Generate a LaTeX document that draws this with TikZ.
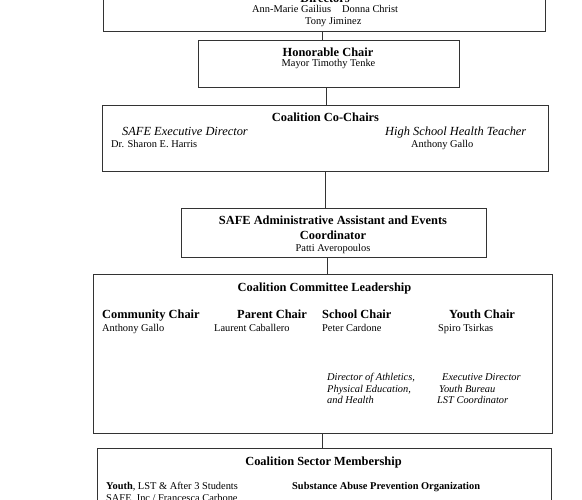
\documentclass[tikz,border=0pt]{standalone}
\usepackage{fontspec}
\setmainfont{Liberation Serif}
\begin{document}
\begin{tikzpicture}[x=1pt,y=-1pt,
  box/.style={draw=black!80,line width=0.9pt,inner sep=0,minimum width=#1},
  conn/.style={draw=black!80,line width=0.8pt},
  ttl/.style={font=\fontsize{12.4}{14}\selectfont\bfseries,inner sep=0,anchor=base},
  ttlw/.style={font=\fontsize{12.4}{14}\selectfont\bfseries,inner sep=0,anchor=base west},
  nm/.style={font=\fontsize{10.4}{12}\selectfont,inner sep=0,anchor=base west},
  nmc/.style={font=\fontsize{10.4}{12}\selectfont,inner sep=0,anchor=base},
  itl/.style={font=\fontsize{12.4}{14}\selectfont\itshape,inner sep=0,anchor=base west},
  its/.style={font=\fontsize{10.4}{12}\selectfont\itshape,inner sep=0,anchor=base west},
  bs/.style={font=\fontsize{10.4}{12}\selectfont\bfseries,inner sep=0,anchor=base west}]
\useasboundingbox (0,0) rectangle (582,500);
\clip (0,0) rectangle (582,500);
\fill[white] (0,0) rectangle (582,500);
% boxes
\node[box=442pt,minimum height=61pt] (top) at (324,0.5) {};
\node[box=261pt,minimum height=47pt] (hon) at (328.5,63.5) {};
\node[box=446pt,minimum height=66pt] (cochairs) at (325,138) {};
\node[box=305pt,minimum height=49pt] (admin) at (333.5,232.5) {};
\node[box=459pt,minimum height=159pt] (committee) at (322.5,353.5) {};
\node[box=454pt,minimum height=112pt] (sector) at (324,504) {};
% connector x positions
\coordinate (x1) at (322,0);
\coordinate (x2) at (326,0);
\coordinate (x3) at (325,0);
\coordinate (x4) at (327,0);
\coordinate (x5) at (322,0);
\draw[conn] (top.south -| x1) -- (hon.north -| x1);
\draw[conn] (hon.south -| x2) -- (cochairs.north -| x2);
\draw[conn] (cochairs.south -| x3) -- (admin.north -| x3);
\draw[conn] (admin.south -| x4) -- (committee.north -| x4);
\draw[conn] (committee.south -| x5) -- (sector.north -| x5);
% top box texts
\node[ttl] (dirs) at (325,2.5) {Directors};
\node[nm] (amg) at (252,13) {Ann-Marie Gailius};
\node[nm] (dc) at (342,13) {Donna Christ};
\node[nm] (tj) at (305,25) {Tony Jiminez};
% honorable chair
\node[ttl] (hont) at (328,57) {Honorable Chair};
\node[nmc] (mtt) at (328.5,67) {Mayor Timothy Tenke};
% co-chairs
\node[ttl] (cct) at (325.5,122) {Coalition Co-Chairs};
\node[itl] (sed) at (122,135.5) {SAFE Executive Director};
\node[nm] (seh) at (111,148) {Dr. Sharon E. Harris};
\node[itl] (hsh) at (385,135.5) {High School Health Teacher};
\node[nm] (ag1) at (411,148) {Anthony Gallo};
% admin
\node[ttl] (adt1) at (333,225) {SAFE Administrative Assistant and Events};
\node[ttl] (adt2) at (333,240) {Coordinator};
\node[nmc] (pa) at (333,252) {Patti Averopoulos};
% committee
\node[ttl] (cmt) at (324.5,291) {Coalition Committee Leadership};
\node[ttlw] (cc) at (102,319) {Community Chair};
\node[ttlw] (pc) at (237,319) {Parent Chair};
\node[ttlw] (sc) at (322,319) {School Chair};
\node[ttlw] (yc) at (449,319) {Youth Chair};
\node[nm] (ag2) at (102,332) {Anthony Gallo};
\node[nm] (lc) at (214,332) {Laurent Caballero};
\node[nm] (pcd) at (322,332) {Peter Cardone};
\node[nm] (st) at (438,332) {Spiro Tsirkas};
\node[its] (da1) at (327,381) {Director of Athletics,};
\node[its] (da2) at (327,392) {Physical Education,};
\node[its] (da3) at (327,403) {and Health};
\node[its] (ed1) at (442,381) {Executive Director};
\node[its] (ed2) at (439,392) {Youth Bureau};
\node[its] (ed3) at (437,403) {LST Coordinator};
% sector
\node[ttl] (smt) at (323.5,465) {Coalition Sector Membership};
\node[nm] (yl) at (106,489) {\textbf{Youth}, LST \& After 3 Students};
\node[bs] (sapo) at (292,489) {Substance Abuse Prevention Organization};
\node[nm] (safe) at (106,501) {SAFE, Inc / Francesca Carbone};
\end{tikzpicture}
\end{document}
